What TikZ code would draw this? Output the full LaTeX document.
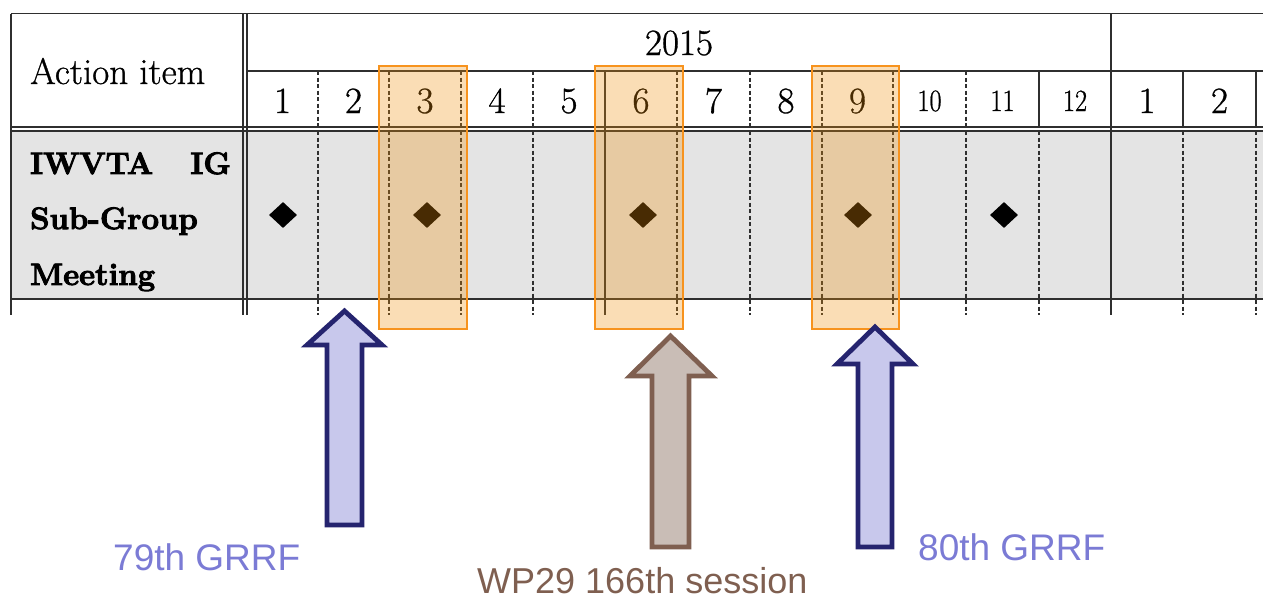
\documentclass[tikz,border=0pt]{standalone}
\usepackage{fontspec}
\usepackage{graphicx}
\newfontfamily\labfont{Liberation Sans}
\newfontfamily\heavy{Latin Modern Roman}[FakeBold=0.8]
\newfontfamily\heavyb{Latin Modern Roman}[FakeBold=3]
\usetikzlibrary{shapes.geometric}
\definecolor{tblline}{HTML}{2F2F2F}
\definecolor{rowgray}{HTML}{E4E4E4}
\definecolor{hlorange}{HTML}{F0900A}
\definecolor{hledge}{HTML}{F7931E}
\definecolor{navy}{HTML}{25246F}
\definecolor{lav}{HTML}{C8C8EC}
\definecolor{brownline}{HTML}{7F5F50}
\definecolor{brownfill}{HTML}{C9BDB6}
\definecolor{labblue}{HTML}{7B7BD5}
\begin{document}
\begin{tikzpicture}[x=1pt,y=-1pt,
  gridline/.style={draw=tblline,line width=1.3pt},
  griddash/.style={draw=tblline,line width=1.1pt,dash pattern=on 4pt off 2.5pt},
  mdiam/.style={shape=diamond,fill=black,minimum width=28pt,minimum height=26pt,inner sep=0pt},
  monthlbl/.style={anchor=base,font=\heavy\fontsize{37}{42}\selectfont,inner sep=0pt},
  headlbl/.style={anchor=base west,font=\heavy\fontsize{37}{42}\selectfont,inner sep=0pt},
  boldlbl/.style={anchor=base west,font=\heavyb\bfseries\fontsize{31}{36}\selectfont,inner sep=0pt},
  hlbox/.style={fill=hlorange,fill opacity=0.3,draw=hledge,draw opacity=1,line width=2pt},
  bluearrow/.style={draw=navy,fill=lav,line width=4.8pt,line join=miter},
  brownarrow/.style={draw=brownline,fill=brownfill,line width=4.8pt,line join=miter},
  bluelbl/.style={anchor=base west,text=labblue,font=\labfont\fontsize{37}{42}\selectfont,inner sep=0pt},
  brownlbl/.style={anchor=base west,text=brownline,font=\labfont\fontsize{36}{40}\selectfont,inner sep=0pt}
]
\useasboundingbox[fill=white] (0,0) rectangle (1263,600);

% gray row
\fill[rowgray] (11,131) rectangle (1263,299);

% horizontal lines
\draw[gridline] (11,13.5) -- (1263,13.5);
\draw[gridline] (247,71) -- (1263,71);
\draw[gridline] (11,127) -- (1263,127);
\draw[gridline] (11,131) -- (1263,131);
\draw[gridline] (11,299) -- (1263,299);

% main verticals
\draw[gridline] (11,13.5) -- (11,315);
\draw[gridline] (243,13.5) -- (243,315);
\draw[gridline] (247,13.5) -- (247,315);
\draw[gridline] (1111,13.5) -- (1111,315);

% month separators: dashed throughout
\foreach \x in {318,389,461,533,677,750,822,893,966}{
  \draw[griddash] (\x,71) -- (\x,127);
  \draw[griddash] (\x,131) -- (\x,315);
}
% solid throughout
\draw[gridline] (605,71) -- (605,315);
% solid header, dashed below
\foreach \x in {1039,1183,1256}{
  \draw[gridline] (\x,71) -- (\x,127);
  \draw[griddash] (\x,131) -- (\x,315);
}

% texts
\node[headlbl] (action) at (30,84) {Action item};
\node[monthlbl] (year) at (679,55) {2015};
\foreach \c/\t [count=\i] in {282.5/1,353.5/2,425/3,497/4,569/5,641/6,713.5/7,786/8,857.5/9}{
  \node[monthlbl] (m\i) at (\c,113) {\t};
}
\foreach \c/\t [count=\i from 10] in {929.5/10,1002.5/11,1075/12}{
  \node[monthlbl] (m\i) at (\c,111) {\scalebox{0.85}[1]{\fontsize{31}{36}\selectfont\t}};
}
\node[monthlbl] (n1) at (1147,113) {1};
\node[monthlbl] (n2) at (1219.5,113) {2};

\node[boldlbl] (iw) at (30,174) {IWVTA};
\node[boldlbl,anchor=base east] (ig) at (231,174) {IG};
\node[boldlbl] (sg) at (30,229) {Sub-Group};
\node[boldlbl] (mt) at (30,285) {Meeting};

% diamonds
\foreach \c [count=\i] in {283,427,643,858,1004}{
  \node[mdiam] (d\i) at (\c,215) {};
}

% highlight boxes
\draw[hlbox] (379,66) rectangle (467,329);
\draw[hlbox] (595,66) rectangle (683,329);
\draw[hlbox] (812,66) rectangle (899,329);

% arrows
\draw[bluearrow] (344.5,311) -- (382,345) -- (362,345) -- (362,525) -- (327,525) -- (327,345) -- (307,345) -- cycle;
\draw[brownarrow] (670.5,336) -- (712,376) -- (689,376) -- (689,547) -- (652,547) -- (652,376) -- (630,376) -- cycle;
\draw[bluearrow] (875,327) -- (913,364) -- (892,364) -- (892,547) -- (858,547) -- (858,364) -- (837,364) -- cycle;

% labels
\node[bluelbl] (g79) at (113,570) {79th GRRF};
\node[bluelbl] (g80) at (918,560) {80th GRRF};
\node[brownlbl] (wp) at (477,593) {WP29 166th session};
\end{tikzpicture}
\end{document}
